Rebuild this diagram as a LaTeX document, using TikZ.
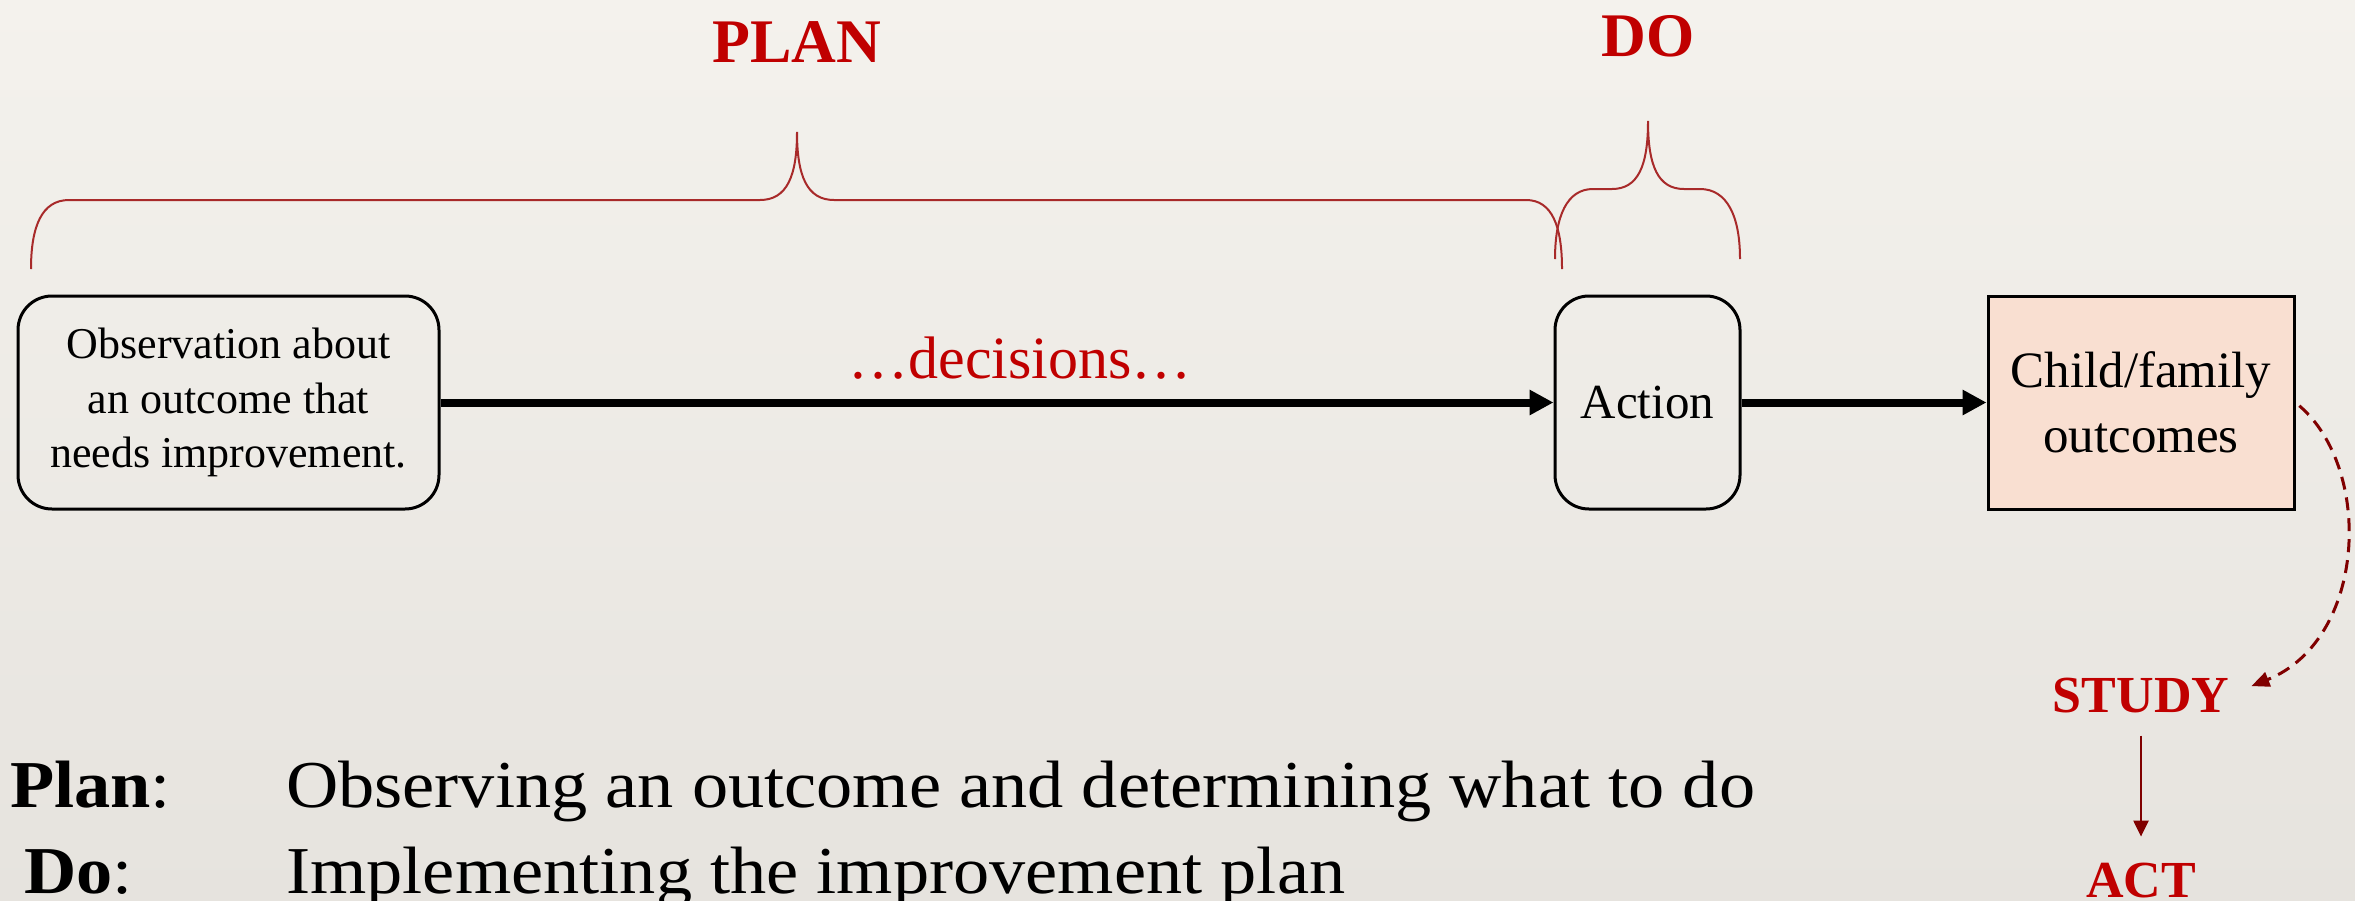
\documentclass[tikz,border=0pt]{standalone}
\usepackage{fontspec}
\setmainfont{Liberation Serif}
\newfontfamily\legendfont{Liberation Serif}[FakeStretch=1.08]
\usetikzlibrary{arrows.meta}
\definecolor{bgtop}{RGB}{244,242,237}
\definecolor{bgbot}{RGB}{230,227,222}
\definecolor{titlered}{RGB}{192,0,0}
\definecolor{bracered}{RGB}{168,42,42}
\definecolor{darkred}{RGB}{128,0,0}
\definecolor{peach}{RGB}{249,223,209}
\begin{document}
\begin{tikzpicture}[x=1pt,y=-1pt,
  roundbox/.style={draw=black, line width=3pt, rounded corners=34pt, align=center, inner sep=0pt},
  sqbox/.style={draw=black, line width=3pt, fill=peach, align=center, inner sep=0pt},
  mainarrow/.style={line width=8pt, -{Triangle[length=24pt,width=24pt]}},
  bracepath/.style={draw=bracered, line width=2pt},
  titletext/.style={text=titlered, font=\bfseries\fontsize{62}{70}\selectfont, inner sep=0pt, anchor=base},
  pdsatext/.style={text=titlered, font=\bfseries\fontsize{52}{60}\selectfont, inner sep=0pt, outer sep=0pt, anchor=base},
  legendtext/.style={font=\legendfont\fontsize{67}{80}\selectfont, inner sep=0pt, anchor=base west},
  redarrow/.style={draw=darkred, line width=2.5pt, -{Triangle[length=16pt,width=15pt]}},
  dasharrow/.style={draw=darkred, line width=3pt, dash pattern=on 13pt off 8pt, -{Triangle[length=18pt,width=15pt]}}
]
% background
\fill[top color=bgtop, bottom color=bgbot] (0,0) rectangle (2355,900);
\useasboundingbox (0,0) rectangle (2355,900);

% titles
\node[titletext] (plan) at (797,62) {PLAN};
\node[titletext] (do) at (1648,56) {DO};

% braces
\draw[bracepath] (31,269) .. controls (31,226) and (42,200) .. (69,200) -- (760,200)
  .. controls (787,200) and (797,176) .. (797,132)
  .. controls (797,176) and (807,200) .. (834,200) -- (1526,200)
  .. controls (1552,200) and (1562,226) .. (1562,269);
\draw[bracepath] (1555,259) .. controls (1555,216) and (1567,189) .. (1593,189) -- (1612,189)
  .. controls (1638,189) and (1648,166) .. (1648,121)
  .. controls (1648,166) and (1658,189) .. (1684,189) -- (1700,189)
  .. controls (1727,189) and (1740,216) .. (1740,259);

% boxes
\node[roundbox, minimum width=421pt, minimum height=213pt,
      font=\fontsize{44}{54.5}\selectfont] (obs) at (228.5,402.5)
  {Observation about\\an outcome that\\needs improvement.};
\node[roundbox, minimum width=185pt, minimum height=213pt,
      font=\fontsize{49}{58}\selectfont] (action) at (1647.5,402.5) {Action};
\node[sqbox, minimum width=306pt, minimum height=213pt,
      font=\fontsize{51}{65}\selectfont] (child) at (2141,402.5) {Child/family\\outcomes};

% decisions label
\node[text=titlered, font=\fontsize{60}{70}\selectfont, inner sep=0pt, anchor=base] (dec) at (1020,378) {…decisions…};

% main arrows
\draw[mainarrow] (obs) -- (action);
\draw[mainarrow] (action) -- (child);

% study / act
\node[pdsatext] (study) at (2141,712) {STUDY};
\node[pdsatext] (act) at (2141,897) {ACT};
\draw[dasharrow, shorten <=5pt, shorten >=24pt] (child.east) .. controls (2374,470) and (2366,640) .. (study.east);
\draw[redarrow, shorten <=23pt, shorten >=26pt] (study.south) -- (act.north);

% legend
\node[legendtext] (plbl) at (10,807) {\textbf{Plan}:};
\node[legendtext] (ptxt) at (286,807) {Observing an outcome and determining what to do};
\node[legendtext] (dlbl) at (24,893) {\textbf{Do}:};
\node[legendtext] (dtxt) at (286,893) {Implementing the improvement plan};
\end{tikzpicture}
\end{document}
